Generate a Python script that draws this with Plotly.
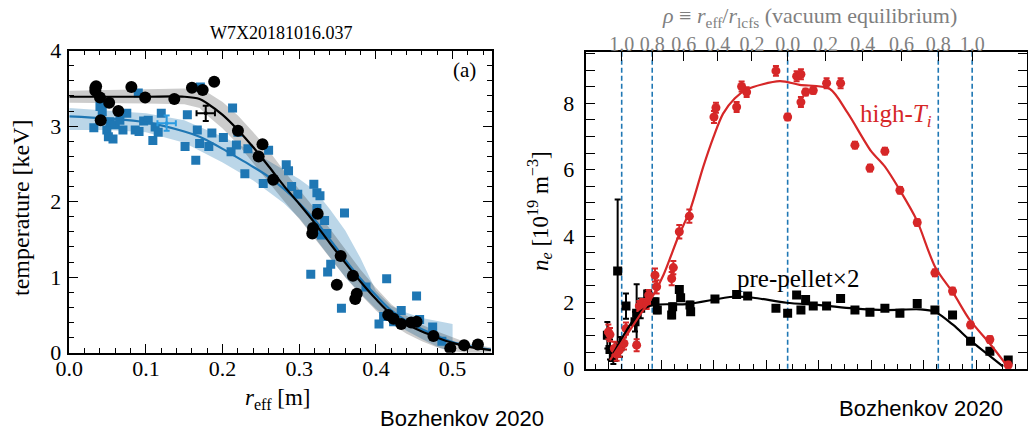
import plotly.graph_objects as go

# ---------------- Left panel data (r_eff [m], T [keV]) ----------------
te_r = [0.034, 0.035, 0.034, 0.040, 0.041, 0.052, 0.064, 0.081, 0.099, 0.137, 0.160, 0.174, 0.189,
        0.220, 0.252, 0.247, 0.266, 0.324, 0.318, 0.317, 0.354, 0.370, 0.349, 0.375, 0.373,
        0.416, 0.423, 0.433, 0.446, 0.453, 0.475, 0.497, 0.515, 0.533]
te_T = [3.51, 3.53, 3.47, 3.38, 3.08, 3.31, 3.20, 3.52, 3.38, 3.36, 3.51, 3.48, 3.59,
        2.94, 2.76, 2.60, 2.29, 1.84, 1.65, 1.58, 1.28, 1.02, 0.90, 0.78, 0.71,
        0.50, 0.45, 0.38, 0.40, 0.41, 0.22, 0.06, 0.10, 0.11]

ti_r = [0.032, 0.040, 0.042, 0.043, 0.049, 0.051, 0.053, 0.057, 0.060, 0.066, 0.070, 0.075, 0.086,
        0.090, 0.091, 0.097, 0.103, 0.109, 0.112, 0.116, 0.120, 0.151, 0.154, 0.165, 0.167, 0.170,
        0.171, 0.182, 0.186, 0.201, 0.211, 0.213, 0.218, 0.220, 0.229, 0.233, 0.253, 0.260,
        0.283, 0.286, 0.290, 0.298, 0.319, 0.323, 0.327, 0.323, 0.333, 0.336, 0.329, 0.359,
        0.341, 0.337, 0.315, 0.355, 0.414, 0.387, 0.404, 0.410, 0.433, 0.423, 0.453, 0.457,
        0.474, 0.486]
ti_T = [2.98, 3.26, 3.30, 3.19, 2.95, 2.86, 3.06, 2.83, 3.02, 3.08, 2.95, 3.17, 2.95,
        3.44, 2.93, 3.07, 3.08, 2.81, 2.99, 2.92, 3.17, 2.73, 3.15, 2.55, 2.95, 2.77,
        3.52, 2.73, 2.91, 2.85, 2.66, 3.24, 2.75, 2.92, 2.37, 2.70, 2.24, 2.68,
        2.49, 2.41, 2.20, 2.10, 2.23, 2.12, 2.08, 1.91, 1.75, 1.58, 1.56, 1.85,
        1.17, 1.07, 1.04, 0.59, 0.98, 0.87, 0.38, 0.48, 0.56, 0.41, 0.75, 0.44,
        0.34, 0.15]

fit_r = [0.0, 0.05, 0.10, 0.15, 0.17, 0.18, 0.20, 0.22, 0.24, 0.26, 0.28, 0.30, 0.32, 0.34,
         0.36, 0.38, 0.40, 0.42, 0.44, 0.46, 0.48, 0.50, 0.52, 0.55]
te_fit = [3.39, 3.39, 3.39, 3.39, 3.36, 3.30, 3.15, 2.95, 2.72, 2.47, 2.21, 1.97, 1.72, 1.45,
          1.19, 0.94, 0.71, 0.51, 0.38, 0.28, 0.20, 0.13, 0.08, 0.035]
te_hi = [3.47, 3.48, 3.49, 3.50, 3.49, 3.45, 3.32, 3.14, 2.92, 2.68, 2.41, 2.16, 1.91, 1.64,
         1.37, 1.10, 0.86, 0.64, 0.49, 0.37, 0.28, 0.20, 0.13, 0.07]
te_lo = [3.31, 3.30, 3.30, 3.29, 3.24, 3.14, 2.97, 2.76, 2.52, 2.26, 2.01, 1.77, 1.52, 1.26,
         1.00, 0.77, 0.56, 0.38, 0.25, 0.15, 0.07, 0.02, 0.0, 0.0]

ti_fit = [3.13, 3.10, 3.05, 2.93, 2.86, 2.81, 2.70, 2.58, 2.46, 2.33, 2.17, 1.98, 1.76, 1.50,
          1.23, 0.98, 0.76, 0.56, 0.42, 0.31, 0.22, 0.14, 0.09, 0.04]
band_r = [0.0, 0.05, 0.10, 0.15, 0.20, 0.24, 0.28, 0.30, 0.32, 0.34, 0.36, 0.38, 0.40, 0.42,
          0.44, 0.46, 0.48, 0.50]
ti_hi = [3.24, 3.21, 3.17, 3.08, 2.86, 2.66, 2.42, 2.30, 2.15, 1.90, 1.62, 1.25, 0.82, 0.62,
         0.53, 0.46, 0.42, 0.38]
ti_lo = [2.95, 2.95, 2.92, 2.78, 2.52, 2.28, 1.98, 1.78, 1.53, 1.26, 1.00, 0.78, 0.58, 0.42,
         0.29, 0.18, 0.08, 0.0]

te_cross = dict(r=0.178, T=3.17, dr=0.012, dT=0.10)
ti_cross = dict(r=0.127, T=3.04, dr=0.012, dT=0.10)

# ---------------- Right panel data (line-of-sight coord s, n_e) ----------------
red_s = [-0.0006, 0.0025, 0.0108, 0.0152, 0.0203, 0.0292, 0.033, 0.0533, 0.0584, 0.0641, 0.0724,
         0.0762, 0.0883, 0.0914, 0.120, 0.1232, 0.1346, 0.1537, 0.2006, 0.2044, 0.2438, 0.2533,
         0.2629, 0.3187, 0.341, 0.3581, 0.3663, 0.3663, 0.3752, 0.3898, 0.4152, 0.4419, 0.4692,
         0.4978, 0.5263, 0.5549, 0.5879, 0.6216, 0.6552, 0.6895, 0.7263, 0.7613]
red_ne = [1.11, 1.03, 0.61, 0.44, 0.56, 0.76, 1.21, 0.71, 1.89, 1.95, 1.95,
          2.22, 2.82, 2.47, 2.72, 3.05, 4.13, 4.60, 7.59, 7.87, 7.89, 8.51,
          8.34, 8.98, 7.59, 8.82, 8.88, 8.04, 8.34, 8.39, 8.61, 8.61, 6.74,
          6.05, 6.56, 5.38, 4.41, 2.89, 2.34, 1.32, 0.88, 0.11]
red_err = [0.22, 0.2, 0.2, 0.2, 0.2, 0.18, 0.18, 0.18, 0.15, 0.15, 0.15,
           0.15, 0.2, 0.2, 0.2, 0.2, 0.2, 0.2, 0.18, 0.15, 0.15, 0.15,
           0.15, 0.15, 0.1, 0.15, 0.15, 0.15, 0.1, 0.1, 0.15, 0.15, 0.1,
           0.1, 0.1, 0.1, 0.1, 0.1, 0.1, 0.1, 0.1, 0.1]

blk_s = [-0.0025, 0.0025, 0.0089, 0.0171, 0.0216, 0.033, 0.0502, 0.0533, 0.061, 0.0743, 0.0883,
         0.0927, 0.120, 0.1219, 0.1346, 0.1371, 0.1549, 0.1562, 0.2025, 0.2438, 0.2648, 0.3187,
         0.341, 0.3581, 0.3663, 0.3752, 0.3898, 0.4152, 0.4419, 0.4692, 0.4978, 0.5263, 0.5549,
         0.5879, 0.6216, 0.6552, 0.6895, 0.7263, 0.7613]
blk_ne = [1.01, 0.58, 0.34, 2.95, 0.66, 1.89, 1.42, 1.67, 1.82, 2.25, 2.02,
          1.77, 1.62, 1.87, 2.39, 2.14, 1.92, 1.72, 2.10, 2.24, 2.19, 1.82,
          1.67, 2.22, 1.77, 2.09, 1.89, 1.89, 2.12, 1.77, 1.70, 1.82, 1.67,
          1.97, 1.77, 1.62, 0.83, 0.53, 0.26]
blk_err = [0.4, 0.3, 0.2, 2.15, 0.3, 0.38, 0.3, 0.88, 0.3, 0.12, 0.1,
           0.1, 0.1, 0.1, 0.1, 0.1, 0.1, 0.1, 0.05, 0.05, 0.05, 0.05,
           0.05, 0.05, 0.05, 0.05, 0.05, 0.05, 0.05, 0.05, 0.05, 0.05, 0.05,
           0.05, 0.05, 0.05, 0.05, 0.05, 0.05]

red_fit_s = [0.0025, 0.0278, 0.0596, 0.085, 0.105, 0.1326, 0.155, 0.180, 0.200, 0.218, 0.240,
             0.263, 0.326, 0.364, 0.421, 0.455, 0.500, 0.526, 0.555, 0.587, 0.622, 0.657,
             0.688, 0.726, 0.758]
red_fit_ne = [0.26, 0.86, 1.62, 2.22, 2.85, 3.98, 4.78, 6.08, 7.00, 7.69, 8.15,
              8.42, 8.67, 8.56, 8.44, 7.72, 6.56, 6.10, 5.38, 4.48, 3.07, 2.27,
              1.47, 0.76, 0.11]
blk_fit_s = [0.0089, 0.0343, 0.0597, 0.0851, 0.1486, 0.2375, 0.2756, 0.339, 0.4025, 0.466,
             0.5295, 0.593, 0.6216, 0.6565, 0.6883, 0.720, 0.7517]
blk_fit_ne = [0.46, 1.16, 1.72, 1.92, 1.95, 2.17, 2.14, 1.99, 1.92, 1.82,
              1.77, 1.79, 1.72, 1.32, 0.86, 0.46, 0.06]

rho_tick_s = [0.0248, 0.083, 0.143, 0.208, 0.273, 0.341, 0.413, 0.484, 0.558, 0.628, 0.6926]
rho_tick_labels = ["1.0", "0.8", "0.6", "0.4", "0.2", "0.0", "0.2", "0.4", "0.6", "0.8", "1.0"]
dashed_s = [0.0248, 0.083, 0.341, 0.628, 0.6926]

# ---------------- colours ----------------
BLUE = "#1f77b4"
LBLUE = "#2b9be0"
RED = "#d62728"
SERIF = "Liberation Serif"
SANS = "Liberation Sans"

fig = go.Figure()

# left panel bands
fig.add_trace(go.Scatter(x=band_r + band_r[::-1], y=ti_hi + ti_lo[::-1], fill="toself",
                         fillcolor="rgba(31,119,180,0.30)", line=dict(width=0),
                         hoverinfo="skip", xaxis="x", yaxis="y"))
fig.add_trace(go.Scatter(x=fit_r + fit_r[::-1], y=te_hi + te_lo[::-1], fill="toself",
                         fillcolor="rgba(0,0,0,0.20)", line=dict(width=0),
                         hoverinfo="skip", xaxis="x", yaxis="y"))
fig.add_trace(go.Scatter(x=ti_r, y=ti_T, mode="markers",
                         marker=dict(symbol="square", size=9, color=BLUE, line=dict(width=0)),
                         xaxis="x", yaxis="y"))
fig.add_trace(go.Scatter(x=fit_r, y=ti_fit, mode="lines", line=dict(color=BLUE, width=2.2, shape="spline"),
                         xaxis="x", yaxis="y"))
fig.add_trace(go.Scatter(x=te_r, y=te_T, mode="markers",
                         marker=dict(symbol="circle", size=12, color="black", line=dict(width=0)),
                         xaxis="x", yaxis="y"))
fig.add_trace(go.Scatter(x=fit_r, y=te_fit, mode="lines", line=dict(color="black", width=2.2, shape="spline"),
                         xaxis="x", yaxis="y"))
for c, col in ((te_cross, "black"), (ti_cross, LBLUE)):
    fig.add_trace(go.Scatter(x=[c["r"]], y=[c["T"]], mode="markers",
                             marker=dict(symbol="circle", size=4, color=col),
                             error_x=dict(type="constant", value=c["dr"], color=col, thickness=2, width=3),
                             error_y=dict(type="constant", value=c["dT"], color=col, thickness=2, width=3),
                             xaxis="x", yaxis="y"))

# right panel
fig.add_trace(go.Scatter(x=blk_s, y=blk_ne, mode="markers",
                         marker=dict(symbol="square", size=9, color="black", line=dict(width=0)),
                         error_y=dict(type="data", array=blk_err, color="black", thickness=2, width=3),
                         xaxis="x2", yaxis="y2"))
fig.add_trace(go.Scatter(x=red_s, y=red_ne, mode="markers",
                         marker=dict(symbol="circle", size=9, color=RED, line=dict(width=0)),
                         error_y=dict(type="data", array=red_err, color=RED, thickness=2, width=3),
                         xaxis="x2", yaxis="y2"))
fig.add_trace(go.Scatter(x=blk_fit_s, y=blk_fit_ne, mode="lines",
                         line=dict(color="black", width=2.2, shape="spline", smoothing=0.8),
                         xaxis="x2", yaxis="y2"))
fig.add_trace(go.Scatter(x=red_fit_s, y=red_fit_ne, mode="lines",
                         line=dict(color=RED, width=2.2, shape="spline", smoothing=0.8),
                         xaxis="x2", yaxis="y2"))
# invisible trace to activate top rho axis
fig.add_trace(go.Scatter(x=[rho_tick_s[0]], y=[0], mode="markers", marker=dict(opacity=0),
                         hoverinfo="skip", xaxis="x3", yaxis="y2"))

for s in dashed_s:
    fig.add_shape(type="line", xref="x2", yref="y2 domain", x0=s, x1=s, y0=0, y1=1,
                  line=dict(color=BLUE, width=1.6, dash="5px,3px"), layer="below")

tick_common = dict(showline=True, linecolor="black", linewidth=1.5, ticks="inside",
                   tickcolor="black", tickwidth=1.3, showgrid=False, zeroline=False,
                   automargin=False,
                   tickfont=dict(family=SERIF, size=22, color="black"))

fig.update_layout(
    template="none",
    width=1028, height=431, margin=dict(l=0, r=0, t=0, b=0, pad=0),
    paper_bgcolor="white", plot_bgcolor="white", showlegend=False,
    xaxis=dict(domain=[0.0674, 0.4783], range=[0, 0.551], dtick=0.1, tick0=0, tickformat=".1f",
               ticklen=9, mirror="allticks", ticklabelstandoff=-5,
               minor=dict(dtick=0.02, ticklen=5, ticks="inside", tickcolor="black", tickwidth=1.2,
                          showgrid=False),
               anchor="y", **tick_common),
    yaxis=dict(domain=[0.1817, 0.8824], range=[0, 4], dtick=1, ticklen=9, mirror="allticks",
               ticklabelstandoff=2,
               minor=dict(dtick=0.2, ticklen=5, ticks="inside", tickcolor="black", tickwidth=1.2,
                          showgrid=False),
               anchor="x", **tick_common),
    xaxis2=dict(domain=[0.5705, 0.999], range=[-0.0423, 0.797], dtick=0.1, tick0=0, ticklen=9,
                showticklabels=False, mirror=False,
                minor=dict(dtick=0.025, ticklen=5, ticks="inside", tickcolor="black", tickwidth=1.2,
                           showgrid=False),
                anchor="y2", **tick_common),
    yaxis2=dict(domain=[0.1445, 0.8794], range=[0, 9.55], dtick=2, ticklen=9, mirror="allticks",
                ticklabelstandoff=6,
                minor=dict(dtick=0.5, ticklen=5, ticks="inside", tickcolor="black", tickwidth=1.2,
                           showgrid=False),
                anchor="x2", **tick_common),
    xaxis3=dict(overlaying="x2", side="top", anchor="y2", range=[-0.0423, 0.797],
                tickmode="array", tickvals=rho_tick_s, ticktext=rho_tick_labels,
                showline=True, linecolor="black", linewidth=1.5, ticks="inside", ticklen=9,
                tickcolor="black", tickwidth=1.3, showgrid=False, zeroline=False,
                ticklabelstandoff=-9, automargin=False,
                tickfont=dict(family=SERIF, size=20, color="#7f7f7f")),
)

ann = [
    dict(text="W7X20181016.037", x=281 / 1028, y=1 - 33 / 431, font=dict(family=SERIF, size=18, color="black")),
    dict(text="temperature [keV]", x=21 / 1028, y=1 - 208 / 431, textangle=-90,
         font=dict(family=SERIF, size=24, color="black")),
    dict(text="<i>r</i><sub>eff</sub> [m]", x=278 / 1028, y=1 - 399 / 431,
         font=dict(family=SERIF, size=23, color="black")),
    dict(text="Bozhenkov 2020", x=462 / 1028, y=1 - 418 / 431, font=dict(family=SANS, size=22, color="black")),
    dict(text="Bozhenkov 2020", x=921 / 1028, y=1 - 408 / 431, font=dict(family=SANS, size=22, color="black")),
    dict(text="<i>n</i><sub><i>e</i></sub> [10<sup>19</sup> m<sup>\u22123</sup>]", x=539 / 1028,
         y=1 - 211 / 431, textangle=-90, font=dict(family=SERIF, size=23, color="black")),
    dict(text="<i>\u03c1</i> \u2261 <i>r</i><sub>eff</sub>/<i>r</i><sub>lcfs</sub> (vacuum equilibrium)",
         x=809 / 1028, y=1 - 17 / 431, font=dict(family=SERIF, size=22, color="#7f7f7f")),
]
for a in ann:
    fig.add_annotation(xref="paper", yref="paper", showarrow=False, xanchor="center", yanchor="middle", **a)

fig.add_annotation(text="(a)", x=0.516, y=3.74, xref="x", yref="y", showarrow=False,
                   font=dict(family=SERIF, size=21, color="black"))
fig.add_annotation(text="high-<i>T<sub>i</sub></i>", x=0.547, y=7.64, xref="x2", yref="y2",
                   showarrow=False, font=dict(family=SERIF, size=25, color=RED))
fig.add_annotation(text="pre-pellet\u00d72", x=0.360, y=2.73, xref="x2", yref="y2",
                   showarrow=False, font=dict(family=SERIF, size=25, color="black"))

fig.write_html("out.html")
